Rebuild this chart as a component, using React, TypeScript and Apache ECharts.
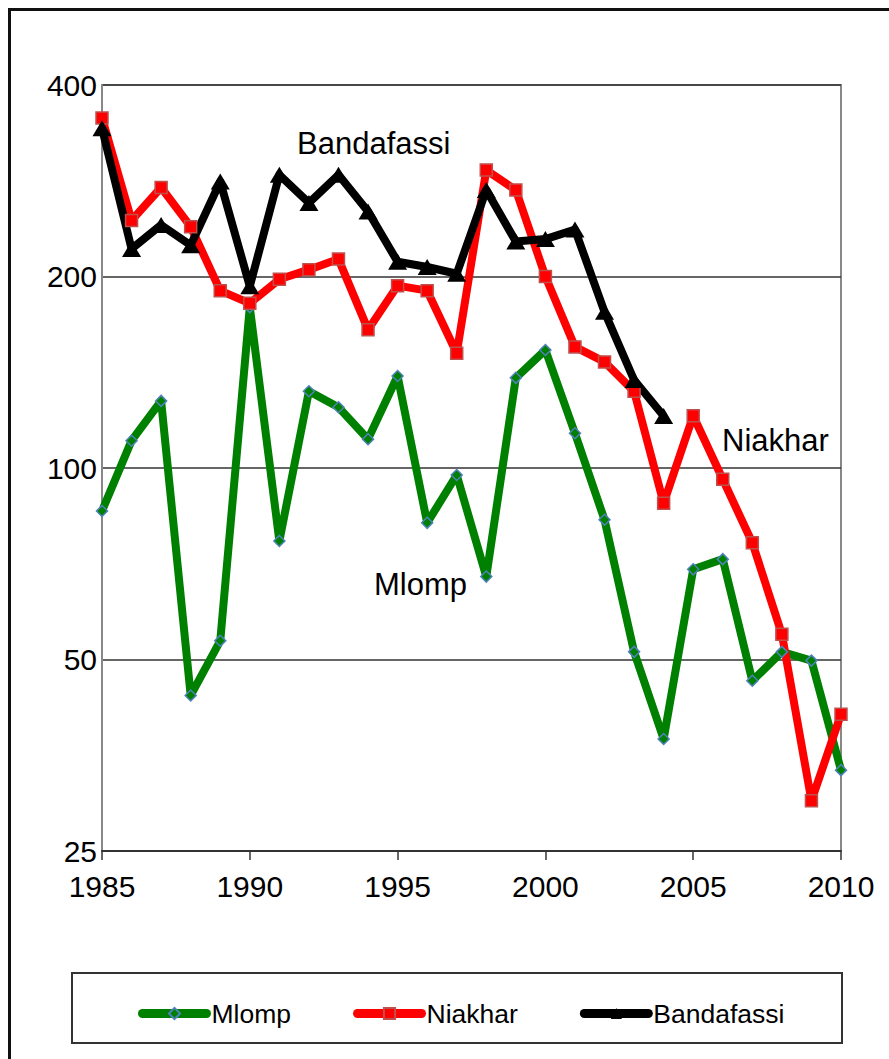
import React, { useEffect, useRef } from "react";
import * as echarts from "echarts";

const years = [
  1985, 1986, 1987, 1988, 1989, 1990, 1991, 1992, 1993, 1994, 1995, 1996, 1997,
  1998, 1999, 2000, 2001, 2002, 2003, 2004, 2005, 2006, 2007, 2008, 2009, 2010,
];
const mlomp = [
  85.6, 110.4, 127.5, 43.9, 53.5, 179, 76.8, 132, 124.6, 111, 139.5, 82, 97.5,
  67.5, 138.6, 153.3, 113.4, 82.9, 51.4, 37.5, 69.3, 71.9, 46.3, 51.4, 49.8, 33.5,
];
const niakhar = [
  355, 245, 276, 239.5, 190, 181.5, 198, 205, 213, 165, 193.5, 190, 151.5, 294,
  273.5, 200, 155, 146.8, 132, 88, 120.8, 96, 76.3, 54.8, 30, 41,
];
const bandafassi = [
  342, 221, 241, 224, 282, 193, 289, 261, 289, 253, 211, 207, 202, 273.5, 227,
  229, 237, 176, 137.5, 120.7,
];
const yTicks = [25, 50, 100, 200, 400];
const seriesNames = ["Mlomp", "Niakhar", "Bandafassi"];

const FONT = '"Liberation Sans", Arial, sans-serif';

const pairs = (vals: number[]) => vals.map((v, i) => [years[i], v]);

export default function App() {
  const ref = useRef<HTMLDivElement>(null);
  useEffect(() => {
    if (!ref.current) return;
    const chart = echarts.init(ref.current, null, { renderer: "svg" });
    chart.setOption({
      animation: false,
      backgroundColor: "#fff",
      grid: {
        left: 102,
        right: 48,
        top: 85,
        bottom: 208,
        show: true,
        borderColor: "#888",
        borderWidth: 2,
        backgroundColor: "transparent",
      },
      xAxis: {
        type: "value",
        min: 1985,
        max: 2010,
        interval: 5,
        axisLine: { show: true, lineStyle: { color: "#333", width: 2 } },
        axisTick: { show: true, length: 9, lineStyle: { color: "#333", width: 1.5 } },
        splitLine: { show: false },
        axisLabel: {
          fontFamily: FONT,
          fontSize: 30,
          color: "#000",
          margin: 20,
          formatter: (v: number) => String(v),
        },
      },
      yAxis: {
        type: "log",
        logBase: 2,
        min: 25,
        max: 400,
        axisLine: { show: true, lineStyle: { color: "#888", width: 2 } },
        axisTick: { show: false, customValues: yTicks },
        splitLine: { show: true, lineStyle: { color: "#333", width: 1.5 } },
        axisLabel: {
          customValues: yTicks,
          fontFamily: FONT,
          fontSize: 30,
          color: "#000",
          margin: 5,
          formatter: (v: number) => String(Math.round(v)),
        },
      },
      legend: {
        data: seriesNames,
        left: 138,
        top: 1000,
        padding: 0,
        itemWidth: 64,
        itemHeight: 14,
        itemGap: 62,
        textStyle: { fontFamily: FONT, fontSize: 26.5, color: "#000" },
        lineStyle: { width: 9, cap: "round" },
      },
      graphic: [
        {
          type: "rect",
          shape: { x: 9.5, y: 9.5, width: 1000, height: 1100 },
          style: { fill: "none", stroke: "#111", lineWidth: 3 },
          silent: true,
          z: 100,
        },
        {
          type: "rect",
          shape: { x: 72, y: 973, width: 770, height: 70 },
          style: { fill: "none", stroke: "#333", lineWidth: 2 },
          silent: true,
        },
        {
          type: "text",
          x: 297,
          y: 143,
          style: {
            text: "Bandafassi",
            fontFamily: FONT,
            fontSize: 31,
            fill: "#000",
            verticalAlign: "middle",
          },
        },
        {
          type: "text",
          x: 722,
          y: 440,
          style: {
            text: "Niakhar",
            fontFamily: FONT,
            fontSize: 31,
            fill: "#000",
            verticalAlign: "middle",
          },
        },
        {
          type: "text",
          x: 374,
          y: 584,
          style: {
            text: "Mlomp",
            fontFamily: FONT,
            fontSize: 31,
            fill: "#000",
            verticalAlign: "middle",
          },
        },
      ],
      series: [
        {
          name: seriesNames[0],
          type: "line",
          data: pairs(mlomp),
          clip: false,
          symbol: "diamond",
          symbolSize: 11,
          lineStyle: { color: "#008000", width: 8, join: "round" },
          itemStyle: { color: "#008000", borderColor: "#4f81bd", borderWidth: 1.5 },
        },
        {
          name: seriesNames[1],
          type: "line",
          data: pairs(niakhar),
          clip: false,
          symbol: "rect",
          symbolSize: 12,
          lineStyle: { color: "#ff0000", width: 8, join: "round" },
          itemStyle: { color: "#ff0000", borderColor: "#c0504d", borderWidth: 1.5 },
        },
        {
          name: seriesNames[2],
          type: "line",
          data: pairs(bandafassi),
          clip: false,
          symbol: "triangle",
          symbolSize: [19, 16],
          lineStyle: { color: "#000000", width: 8, join: "round" },
          itemStyle: { color: "#000000" },
        },
      ],
    });
    return () => chart.dispose();
  }, []);
  return (
    <div
      ref={ref}
      style={{ position: "fixed", left: 0, top: 0, width: 889, height: 1059, background: "#fff" }}
    />
  );
}
